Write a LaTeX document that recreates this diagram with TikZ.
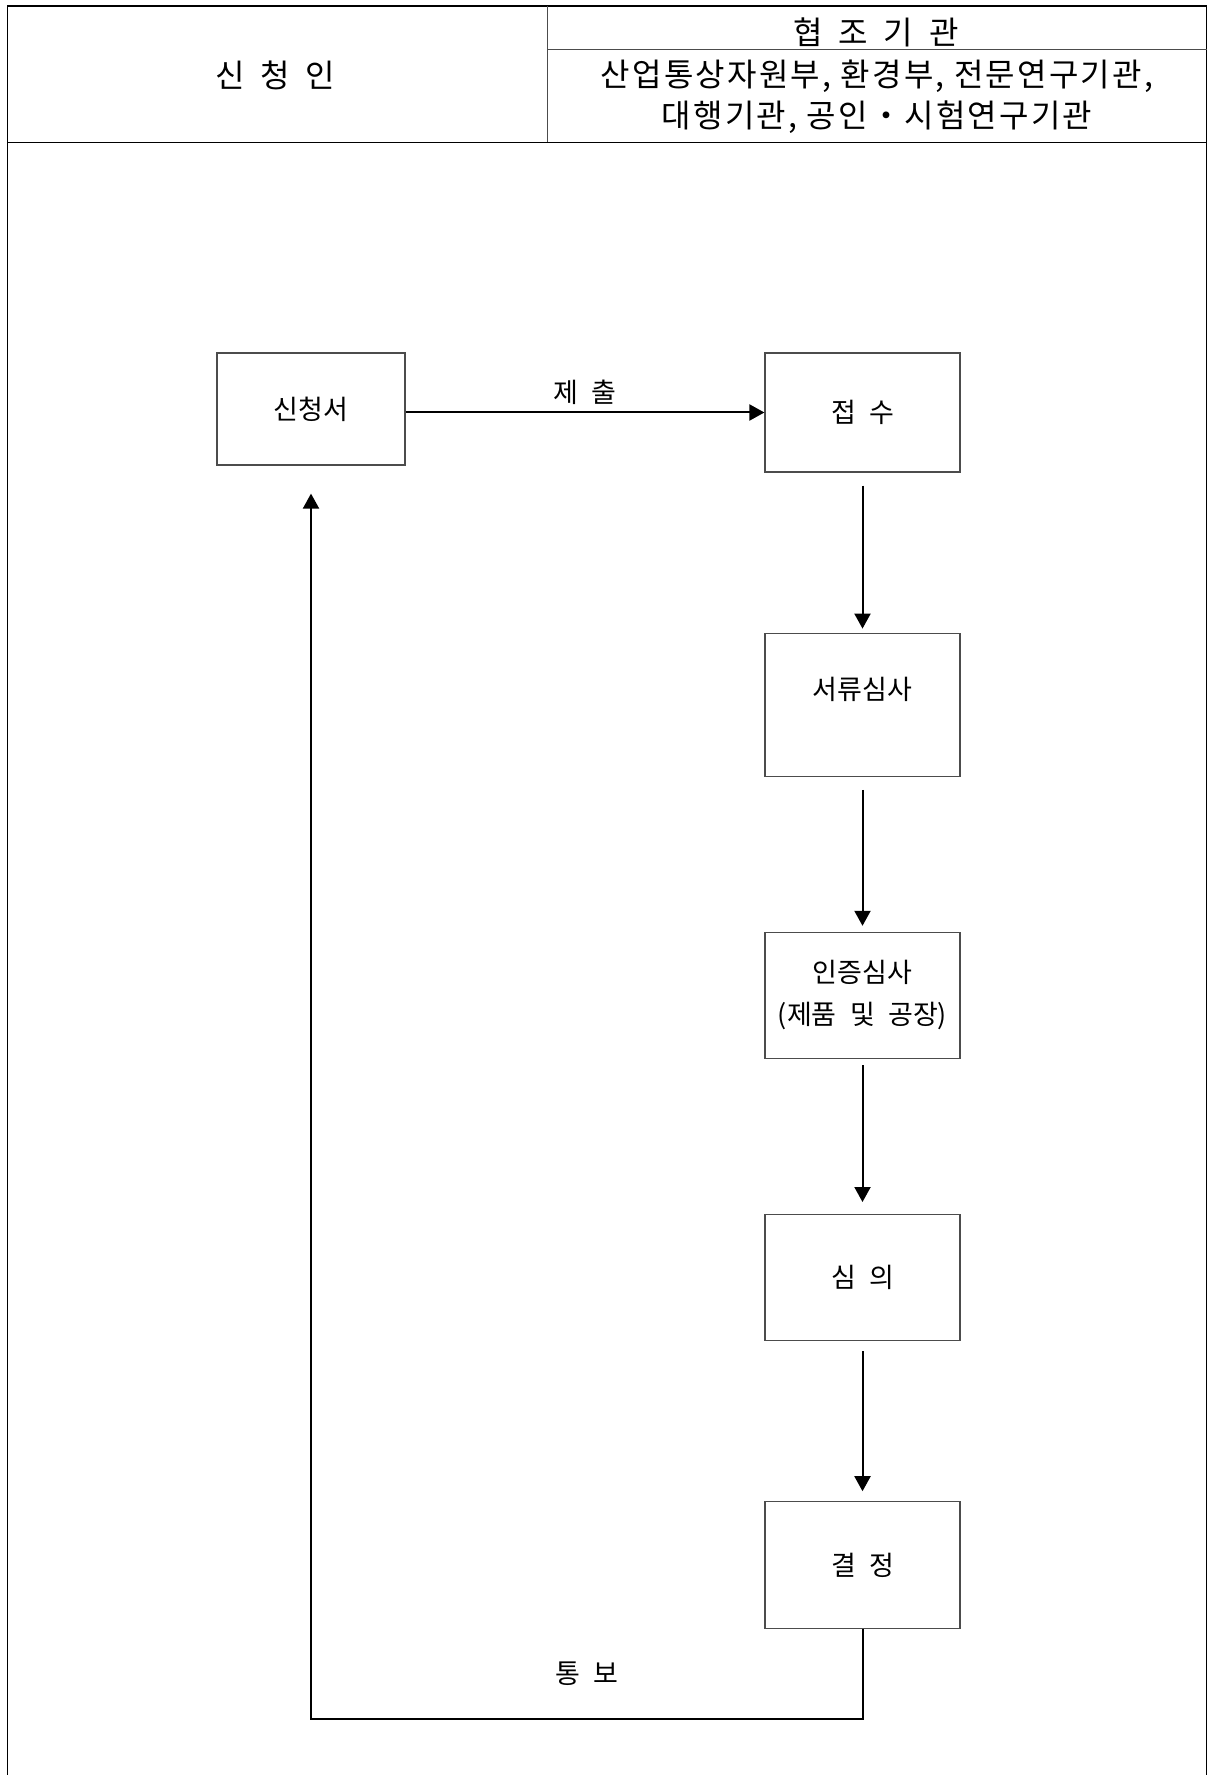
\documentclass[tikz,border=0pt]{standalone}
\usepackage{fontspec}
\setmainfont{Noto Sans CJK KR}[WordSpace=2.2]
\newfontfamily\krlist{Noto Sans CJK KR}[LetterSpace=7]
\usetikzlibrary{positioning,arrows.meta}

\begin{document}
\begin{tikzpicture}[x=0.5pt, y=-0.5pt,
	stepbox/.style={draw=black!70, line width=0.6pt, minimum width=97.5pt, align=center,
		font=\fontsize{13.5}{21}\selectfont},
	flow/.style={-{Triangle[length=7.5pt,width=8pt]}, line width=1pt},
	flowtext/.style={font=\fontsize{13.5}{16}\selectfont},
	head/.style={font=\fontsize{16}{20.5}\selectfont}]
	\useasboundingbox (0,0) rectangle (1209,1775);

	% table frame and header
	\draw [line width=0.8pt] (7.5,1775) -- (7.5,6) -- (1206.5,6) -- (1206.5,1775);
	\draw [line width=0.8pt] (7.5,142.5) -- (1206.5,142.5);
	\draw [black!70, line width=0.5pt] (547,6) -- (547,142.5);
	\draw [black!70, line width=0.5pt] (547,50) -- (1206.5,50);
	\node [head] (h1) at (275,75) {신 청 인};
	\node [head] (h2) at (876,32) {협 조 기 관};
	\node [head, align=center] (h3) at (877,97) {\krlist 산업통상자원부, 환경부, 전문연구기관,\\\krlist 대행기관, 공인・시험연구기관};

	% flow
	\node [stepbox, minimum width=94pt, minimum height=56pt] (a1) at (311,409) {신청서};
	\node [stepbox, minimum height=59.5pt] (b1) at (862.5,412.5) {접 수};
	\node [stepbox, minimum height=71.5pt, text depth=16pt, below=80pt of b1] (b2) {서류심사};
	\node [stepbox, minimum height=63pt, below=77.5pt of b2] (b3) {인증심사\\(제품 및 공장)};
	\node [stepbox, minimum height=63pt, below=77.5pt of b3] (b4) {심 의};
	\node [stepbox, minimum height=63.5pt, below=80pt of b4] (b5) {결 정};

	\draw [flow] (b1.west -| a1.east) -- node [flowtext, above] {제 출} (b1.west);
	\draw [flow, shorten <=6.5pt, shorten >=2pt] (b1) -- (b2);
	\draw [flow, shorten <=6.5pt, shorten >=3pt] (b2) -- (b3);
	\draw [flow, shorten <=3pt, shorten >=6pt] (b3) -- (b4);
	\draw [flow, shorten <=5pt, shorten >=5pt] (b4) -- (b5);
	\draw [flow, shorten >=14pt] (b5.south) -- ++(0,90) -| node [flowtext, pos=0.25, above=13pt] {통 보} (a1.south);
\end{tikzpicture}
\end{document}
